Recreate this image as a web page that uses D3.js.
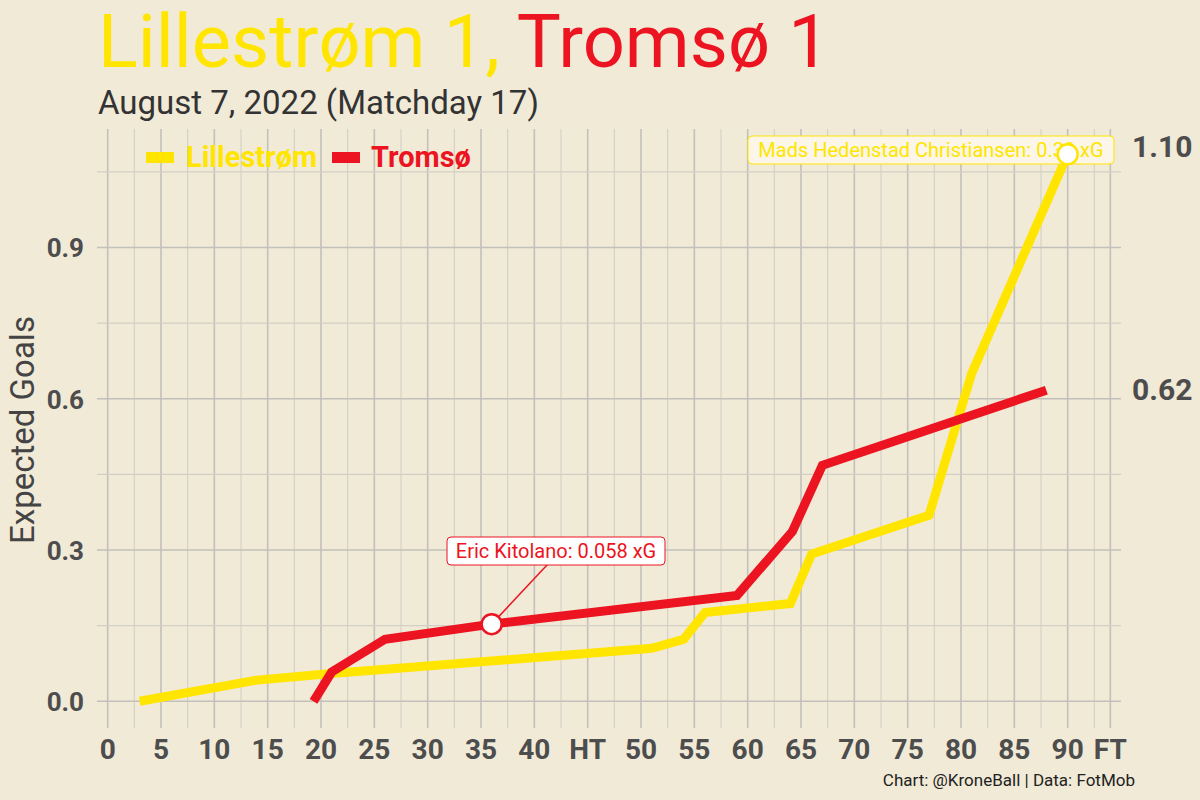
<!DOCTYPE html>
<html>
<head>
<meta charset="utf-8">
<script src="https://cdn.jsdelivr.net/npm/d3@7"></script>
<style>
  body { margin: 0; background: #f1ead7; }
  text { font-family: Roboto, sans-serif; }
</style>
</head>
<body>
<svg id="chart" width="1200" height="800"></svg>
<script>
// data (minute, cumulative xG)
var lsk = [[3, 0], [14, 0.042], [21, 0.055], [51, 0.105], [54, 0.123], [56, 0.176],
           [64, 0.194], [66, 0.292], [77, 0.369], [81, 0.65], [90, 1.085]];
var tromso = [[19.3, 0], [21, 0.058], [26, 0.123], [36, 0.153], [59, 0.21],
              [64.2, 0.337], [67, 0.468], [88, 0.617]];
var tickMinutes = [0, 5, 10, 15, 20, 25, 30, 35, 40, 45, 50, 55, 60, 65, 70, 75, 80, 85, 90, 94];
var tickLabels = ['0', '5', '10', '15', '20', '25', '30', '35', '40', 'HT', '50', '55', '60', '65', '70', '75', '80', '85', '90', 'FT'];
var yTicks = [0, 0.3, 0.6, 0.9];
var yellow = '#ffe500', red = '#ec1420', bg = '#f1ead7';

var svg = d3.select('#chart');
svg.append('rect').attr('width', 1200).attr('height', 800).attr('fill', bg);

var x = d3.scaleLinear().domain([-1, 95]).range([97, 1121]);
var y = d3.scaleLinear().domain([-0.053, 1.135]).range([728, 129]);

/////////////////////////////////////////////////////////////
// grid
/////////////////////////////////////////////////////////////
var vlines = d3.range(0, 93, 2.5).concat([94]);
svg.append('g').selectAll('line').data(vlines).enter().append('line')
	.attr('x1', d => x(d)).attr('x2', d => x(d))
	.attr('y1', y.range()[1]).attr('y2', y.range()[0])
	.attr('stroke', d => d % 5 === 0 || d === 94 ? '#c2c0bb' : '#d2cfc6')
	.attr('stroke-width', d => d % 5 === 0 || d === 94 ? 1.6 : 1.1);

var hlines = d3.range(0, 1.1, 0.15);
svg.append('g').selectAll('line').data(hlines).enter().append('line')
	.attr('x1', 97).attr('x2', 1121)
	.attr('y1', d => y(d)).attr('y2', d => y(d))
	.attr('stroke', (d, i) => i % 2 === 0 ? '#c2c0bb' : '#d2cfc6')
	.attr('stroke-width', (d, i) => i % 2 === 0 ? 1.6 : 1.1);

/////////////////////////////////////////////////////////////
// axes labels
/////////////////////////////////////////////////////////////
svg.append('g').selectAll('text').data(tickMinutes).enter().append('text')
	.attr('x', d => x(d)).attr('y', 759)
	.attr('text-anchor', 'middle')
	.attr('font-size', 28).attr('font-weight', 'bold').attr('fill', '#4d4d4d')
	.text((d, i) => tickLabels[i]);

svg.append('g').selectAll('text').data(yTicks).enter().append('text')
	.attr('x', 84).attr('y', d => y(d) + 10)
	.attr('text-anchor', 'end')
	.attr('font-size', 26).attr('font-weight', 'bold').attr('fill', '#4d4d4d')
	.text(d => d.toFixed(1));

svg.append('text')
	.attr('transform', 'translate(34,430) rotate(-90)')
	.attr('text-anchor', 'middle').attr('font-size', 33).attr('fill', '#444')
	.text('Expected Goals');

/////////////////////////////////////////////////////////////
// lines
/////////////////////////////////////////////////////////////
var line = d3.line().x(d => x(d[0])).y(d => y(d[1]));

svg.append('path').datum(lsk).attr('d', line)
	.attr('fill', 'none').attr('stroke', yellow).attr('stroke-width', 9);
svg.append('path').datum(tromso).attr('d', line)
	.attr('fill', 'none').attr('stroke', red).attr('stroke-width', 9);

// end values
svg.append('text').attr('x', 1132).attr('y', 157)
	.attr('font-size', 30).attr('font-weight', 'bold').attr('fill', '#4d4d4d')
	.text('1.10');
svg.append('text').attr('x', 1132).attr('y', y(0.617) + 10)
	.attr('font-size', 30).attr('font-weight', 'bold').attr('fill', '#4d4d4d')
	.text('0.62');

/////////////////////////////////////////////////////////////
// goal annotations
/////////////////////////////////////////////////////////////
var eric = tromso[3];
svg.append('line')
	.attr('x1', x(eric[0])).attr('y1', y(eric[1]))
	.attr('x2', 548).attr('y2', 564)
	.attr('stroke', red).attr('stroke-width', 1.5);
svg.append('rect').attr('x', 447).attr('y', 537).attr('width', 218).attr('height', 28)
	.attr('rx', 4).attr('fill', 'white').attr('stroke', red).attr('stroke-width', 1);
svg.append('text').attr('x', 556).attr('y', 558).attr('text-anchor', 'middle')
	.attr('font-size', 20).attr('fill', red).text('Eric Kitolano: 0.058 xG');
svg.append('circle').attr('cx', x(eric[0])).attr('cy', y(eric[1])).attr('r', 10)
	.attr('fill', 'white').attr('stroke', red).attr('stroke-width', 2.5);

var mads = lsk[lsk.length - 1];
svg.append('rect').attr('x', 748).attr('y', 136).attr('width', 366).attr('height', 28)
	.attr('rx', 4).attr('fill', '#fbf6e8').attr('stroke', yellow).attr('stroke-width', 1);
svg.append('text').attr('x', 931).attr('y', 157).attr('text-anchor', 'middle')
	.attr('font-size', 20).attr('fill', yellow).text('Mads Hedenstad Christiansen: 0.39 xG');
svg.append('circle').attr('cx', x(mads[0])).attr('cy', y(mads[1])).attr('r', 10)
	.attr('fill', 'white').attr('stroke', yellow).attr('stroke-width', 2.5);

/////////////////////////////////////////////////////////////
// titles, legend, caption
/////////////////////////////////////////////////////////////
var title = svg.append('text').attr('x', 98).attr('y', 67)
	.attr('font-size', 74).attr('font-weight', 400);
title.append('tspan').attr('fill', yellow).text('Lillestrøm 1, ');
title.append('tspan').attr('fill', red).text('Tromsø 1');

svg.append('text').attr('x', 98).attr('y', 114)
	.attr('font-size', 33).attr('fill', '#333').text('August 7, 2022 (Matchday 17)');

svg.append('rect').attr('x', 146).attr('y', 152).attr('width', 28).attr('height', 11).attr('fill', yellow);
svg.append('text').attr('x', 186).attr('y', 167).attr('font-size', 29).attr('font-weight', 'bold')
	.attr('fill', yellow).text('Lillestrøm');
svg.append('rect').attr('x', 332).attr('y', 152).attr('width', 28).attr('height', 11).attr('fill', red);
svg.append('text').attr('x', 371).attr('y', 167).attr('font-size', 29).attr('font-weight', 'bold')
	.attr('fill', red).text('Tromsø');

svg.append('text').attr('x', 1135).attr('y', 786).attr('text-anchor', 'end')
	.attr('font-size', 17).attr('fill', '#222').text('Chart: @KroneBall | Data: FotMob');
</script>
</body>
</html>
